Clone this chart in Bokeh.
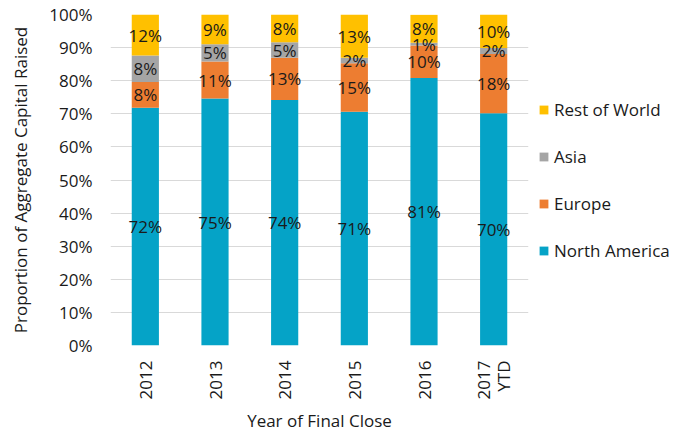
import numpy as np
from bokeh.plotting import figure
from bokeh.models import ColumnDataSource, FixedTicker, Legend, LegendItem
from bokeh.core.properties import value
from bokeh.embed import file_html
from bokeh.resources import INLINE

years = ["2012", "2013", "2014", "2015", "2016", "2017\nYTD"]
series = ["North America", "Europe", "Asia", "Rest of World"]
north_america = [71.8, 74.6, 74.2, 70.6, 80.8, 70.2]
europe = [7.8, 11.2, 12.7, 14.7, 9.8, 17.9]
asia = [8.0, 5.2, 4.7, 1.6, 0.9, 1.8]
rest_of_world = [12.4, 9.0, 8.4, 13.1, 8.4, 10.1]
colors = ["#05A3C7", "#ED7D31", "#A5A5A5", "#FFC000"]
y_ticks = list(range(0, 101, 10))

FONT = "Open Sans"
TXT = "#1a1a1a"
FS = "17px"

data = {"years": years, "North America": north_america, "Europe": europe,
        "Asia": asia, "Rest of World": rest_of_world}
source = ColumnDataSource(data)

p = figure(x_range=years, y_range=(0, 100), frame_width=418, frame_height=331,
           output_backend="svg", toolbar_location=None,
           min_border_left=110, min_border_right=10,
           min_border_top=14, min_border_bottom=10)
p.outline_line_color = None

renderers = p.vbar_stack(series, x="years", width=0.39, color=colors,
                         line_color=None, source=source)

# data labels
vals = [north_america, europe, asia, rest_of_world]
lx, ly, lt = [], [], []
cum = np.zeros(len(years))
for v in vals:
    v = np.array(v)
    for i, yr in enumerate(years):
        lx.append(yr)
        ly.append(cum[i] + v[i] / 2)
        lt.append(f"{int(round(v[i]))}%")
    cum = cum + v
p.text(x=lx, y=ly, text=lt, text_align="center", text_baseline="middle",
       text_font=value(FONT), text_font_size=FS, text_color=TXT)

# axes
p.yaxis.ticker = FixedTicker(ticks=y_ticks)
p.yaxis.major_label_overrides = {t: f"{t}%" for t in y_ticks}
p.yaxis.axis_line_color = None
p.yaxis.major_tick_line_color = None
p.yaxis.minor_tick_line_color = None
p.yaxis.major_label_text_font = FONT
p.yaxis.major_label_text_font_size = FS
p.yaxis.major_label_text_color = TXT
p.yaxis.major_label_standoff = 12
p.yaxis.axis_label = "Proportion of Aggregate Capital Raised"
p.yaxis.axis_label_text_font = FONT
p.yaxis.axis_label_text_font_size = FS
p.yaxis.axis_label_text_font_style = "normal"
p.yaxis.axis_label_text_color = TXT
p.yaxis.axis_label_standoff = 14

p.xaxis.axis_line_color = None
p.xaxis.major_tick_line_color = None
p.xaxis.minor_tick_line_color = None
p.xaxis.major_label_orientation = np.pi / 2
p.xaxis.major_label_text_font = FONT
p.xaxis.major_label_text_font_size = FS
p.xaxis.major_label_text_color = TXT
p.xaxis.major_label_text_line_height = 0.85
p.xaxis.major_label_standoff = 9
p.xaxis.axis_label = "Year of Final Close"
p.xaxis.axis_label_text_font = FONT
p.xaxis.axis_label_text_font_size = FS
p.xaxis.axis_label_text_font_style = "normal"
p.xaxis.axis_label_text_color = TXT
p.xaxis.axis_label_standoff = 7

p.xgrid.grid_line_color = None
p.ygrid.grid_line_color = "#d9d9d9"
p.ygrid.grid_line_width = 1

items = [LegendItem(label=s, renderers=[r]) for s, r in zip(series, renderers)]
items = items[::-1]
legend = Legend(items=items, location="center_left", orientation="vertical")
legend.background_fill_alpha = 0
legend.border_line_color = None
legend.margin = 10
legend.padding = 0
legend.glyph_width = 11
legend.glyph_height = 11
legend.label_text_font = FONT
legend.label_text_font_size = FS
legend.label_text_color = TXT
legend.label_standoff = 5
legend.spacing = 24
legend.label_height = 20
p.add_layout(legend, "right")

open("out.html", "w").write(file_html(p, INLINE))
